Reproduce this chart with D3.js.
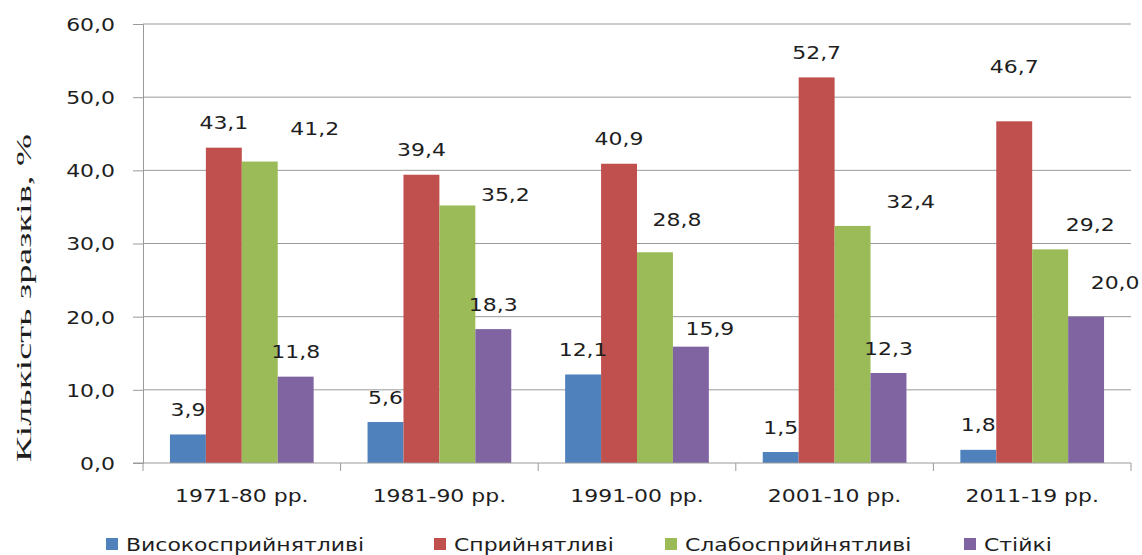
<!DOCTYPE html>
<html>
<head>
<meta charset="utf-8">
<script src="https://cdn.jsdelivr.net/npm/d3@7/dist/d3.min.js"></script>
<style>
  html, body { margin: 0; padding: 0; background: #ffffff; }
  svg { display: block; }
</style>
</head>
<body>
<svg id="chart" width="1142" height="555"></svg>
<script>
// ---- data ----
const categories = ["1971-80 рр.", "1981-90 рр.", "1991-00 рр.", "2001-10 рр.", "2011-19 рр."];
const seriesNames = ["Високосприйнятливі", "Сприйнятливі", "Слабосприйнятливі", "Стійкі"];
const vysokoValues = [3.9, 5.6, 12.1, 1.5, 1.8];
const spryValues   = [43.1, 39.4, 40.9, 52.7, 46.7];
const slaboValues  = [41.2, 35.2, 28.8, 32.4, 29.2];
const stiikiValues = [11.8, 18.3, 15.9, 12.3, 20.0];
const yTickValues = [0, 10, 20, 30, 40, 50, 60];
const yAxisTitle = "Кількість зразків, %";

// ---- style / layout ----
const colors = ["#4F81BD", "#C0504D", "#9BBB59", "#8064A2"];
// manual label nudges [dx, dy] (as in the original, some labels were moved)
const labelNudges = [
  [[0,0],[0,0],[0,0],[0,0],[0,0]],
  [[0,0],[0,0],[0,0],[0,0],[0,-30]],
  [[55,-8],[48,14],[22,-8],[58,1],[40,0]],
  [[0,0],[0,0],[19,7],[0,0],[29,-9]]
];
const legendX = [106, 434, 665, 964];

const allValues = [vysokoValues, spryValues, slaboValues, stiikiValues];
const fmt = v => d3.format(".1f")(v).replace(".", ",");
const FONT = "'DejaVu Sans', Verdana, sans-serif";
const SX = 1.22;
const textColor = "#1e1e1e";

const svg = d3.select("#chart");
const mLeft = 143, mRight = 1131, mTop = 24, mBottom = 463;

const x0 = d3.scaleBand().domain(categories).range([mLeft, mRight]).paddingInner(0).paddingOuter(0);
const x1 = d3.scaleBand().domain(seriesNames).range([0, x0.bandwidth()]).paddingInner(0).paddingOuter(0.75);
const y = d3.scaleLinear().domain([0, 60]).range([mBottom, mTop]);

// gridlines + left axis
const yAxis = d3.axisLeft(y).tickValues(yTickValues).tickSize(10).tickFormat(fmt);
const gy = svg.append("g").attr("transform", `translate(${mLeft},0)`).call(yAxis);
gy.select(".domain").attr("stroke", "#9a9a9a");
gy.selectAll(".tick line").attr("stroke", "#9a9a9a");
gy.selectAll(".tick text")
  .attr("x", 0).attr("dy", "0.36em")
  .attr("transform", `translate(-28,0) scale(${SX},1)`)
  .attr("font-family", FONT).attr("font-size", 18).attr("fill", textColor)
  .attr("text-anchor", "end");

svg.append("g").selectAll("line.grid")
  .data(yTickValues.filter(d => d > 0))
  .join("line")
  .attr("x1", mLeft).attr("x2", mRight)
  .attr("y1", d => y(d)).attr("y2", d => y(d))
  .attr("stroke", "#9a9a9a").attr("stroke-width", 1);

// bars
const groups = svg.append("g").selectAll("g.cat")
  .data(categories)
  .join("g")
  .attr("transform", d => `translate(${x0(d)},0)`);

groups.each(function(cat, ci) {
  const g = d3.select(this);
  seriesNames.forEach((s, si) => {
    const v = allValues[si][ci];
    g.append("rect")
      .attr("x", x1(s))
      .attr("y", y(v))
      .attr("width", x1.bandwidth())
      .attr("height", y(0) - y(v))
      .attr("fill", colors[si]);
  });
});

// bottom axis
const xAxis = d3.axisBottom(x0).tickSize(0).tickFormat(d => d);
const gx = svg.append("g").attr("transform", `translate(0,${mBottom})`).call(xAxis);
gx.select(".domain").remove();
gx.selectAll(".tick text")
  .attr("y", 0).attr("dy", 0)
  .attr("transform", `translate(0,39) scale(${SX},1)`)
  .attr("font-family", FONT).attr("font-size", 18).attr("fill", textColor);
svg.append("line").attr("x1", mLeft - 10).attr("x2", mRight)
  .attr("y1", mBottom).attr("y2", mBottom).attr("stroke", "#9a9a9a");
const boundaries = categories.map(c => x0(c)).concat([mRight]);
svg.append("g").selectAll("line")
  .data(boundaries).join("line")
  .attr("x1", d => d).attr("x2", d => d)
  .attr("y1", mBottom).attr("y2", mBottom + 8)
  .attr("stroke", "#9a9a9a");

// data labels
const labels = svg.append("g");
seriesNames.forEach((s, si) => {
  categories.forEach((c, ci) => {
    const v = allValues[si][ci];
    const nd = labelNudges[si][ci];
    const cx = x0(c) + x1(s) + x1.bandwidth() / 2 + nd[0];
    const cy = y(v) - 25 + nd[1];
    labels.append("text")
      .attr("transform", `translate(${cx},${cy + 6.5}) scale(${SX},1)`)
      .attr("text-anchor", "middle")
      .attr("font-family", FONT).attr("font-size", 18).attr("fill", textColor)
      .text(fmt(v));
  });
});

// y axis title
svg.append("text")
  .attr("transform", "translate(31,298) rotate(-90)")
  .attr("text-anchor", "middle")
  .attr("font-family", "'Liberation Serif', 'DejaVu Serif', serif")
  .attr("font-size", 21).attr("fill", textColor)
  .attr("textLength", 328).attr("lengthAdjust", "spacingAndGlyphs")
  .text(yAxisTitle);

// legend
const legend = svg.append("g");
seriesNames.forEach((s, si) => {
  const lx = legendX[si];
  legend.append("rect")
    .attr("x", lx).attr("y", 538).attr("width", 12).attr("height", 12)
    .attr("fill", colors[si]);
  legend.append("text")
    .attr("transform", `translate(${lx + 20},550.5) scale(${SX},1)`)
    .attr("font-family", FONT).attr("font-size", 18).attr("fill", textColor)
    .text(s);
});
</script>
</body>
</html>
